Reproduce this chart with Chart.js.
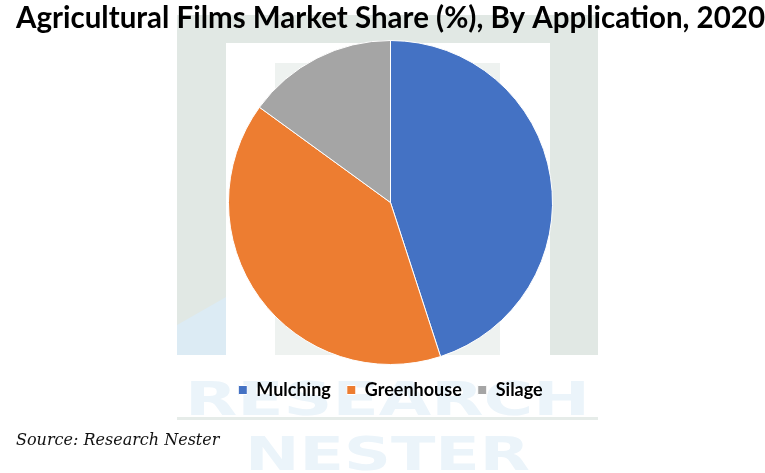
<!DOCTYPE html>
<html>
<head>
<meta charset="utf-8">
<script src="https://cdn.jsdelivr.net/npm/chart.js@4"></script>
<style>
  html, body { margin:0; padding:0; background:#fff; }
  #wrap { position:relative; width:765px; height:473px; }
  #source { position:absolute; left:16px; top:430px; font-family:"DejaVu Serif","Liberation Serif",serif; font-style:italic; font-size:16px; color:#111; }
</style>
</head>
<body>
<div id="wrap">
  <canvas id="c" width="765" height="473"></canvas>
  <div id="source">Source: Research Nester</div>
</div>
<script>
const categories = ["Mulching", "Greenhouse", "Silage"];
const shares = [45, 40, 15];
const colors = ["#4472C4", "#ED7D31", "#A5A5A5"];
const titleText = "Agricultural Films Market Share (%), By Application, 2020";

const watermark = {
  id: 'watermark',
  beforeDraw(chart) {
    const ctx = chart.ctx;
    ctx.save();
    ctx.fillStyle = '#ffffff';
    ctx.fillRect(0, 0, chart.width, chart.height);
    ctx.fillStyle = '#e1e8e4';
    ctx.fillRect(177, 15, 421, 340);
    ctx.fillStyle = '#ffffff';
    ctx.fillRect(226, 43, 324, 312);
    ctx.fillStyle = '#eef2f0';
    ctx.fillRect(275, 63, 225, 292);
    ctx.fillStyle = '#dcebf4';
    ctx.beginPath();
    ctx.moveTo(177, 325); ctx.lineTo(226, 297); ctx.lineTo(226, 355); ctx.lineTo(177, 355);
    ctx.closePath(); ctx.fill();
    ctx.fillStyle = '#e6ece9';
    ctx.fillRect(177, 417, 421, 3);
    ctx.fillStyle = '#ebf4fa';
    ctx.textBaseline = 'alphabetic';
    ctx.font = 'bold 46px "DejaVu Sans"';
    let w = ctx.measureText('RESEARCH').width;
    ctx.save(); ctx.translate(185, 415); ctx.scale(405 / w, 1); ctx.fillText('RESEARCH', 0, 0); ctx.restore();
    w = ctx.measureText('NESTER').width;
    ctx.save(); ctx.translate(245, 470); ctx.scale(285 / w, 1); ctx.fillText('NESTER', 0, 0); ctx.restore();
    ctx.restore();
  }
};

new Chart(document.getElementById('c'), {
  type: 'pie',
  data: {
    labels: categories,
    datasets: [{
      data: shares,
      backgroundColor: colors,
      borderColor: '#ffffff',
      borderWidth: 1
    }]
  },
  options: {
    responsive: false,
    animation: false,
    layout: { padding: { left: 16, right: 0, top: 0, bottom: 64 } },
    plugins: {
      title: {
        display: true,
        text: titleText,
        color: '#000',
        font: { family: 'Lato', size: 30, weight: 'bold', lineHeight: 1.2 },
        padding: { top: 0, bottom: 4 }
      },
      legend: {
        position: 'bottom',
        labels: {
          color: '#000',
          font: { family: 'Lato', size: 18, weight: 'bold' },
          boxWidth: 9, boxHeight: 9,
          padding: 16
        }
      },
      tooltip: { enabled: false }
    }
  },
  plugins: [watermark]
});
</script>
</body>
</html>
